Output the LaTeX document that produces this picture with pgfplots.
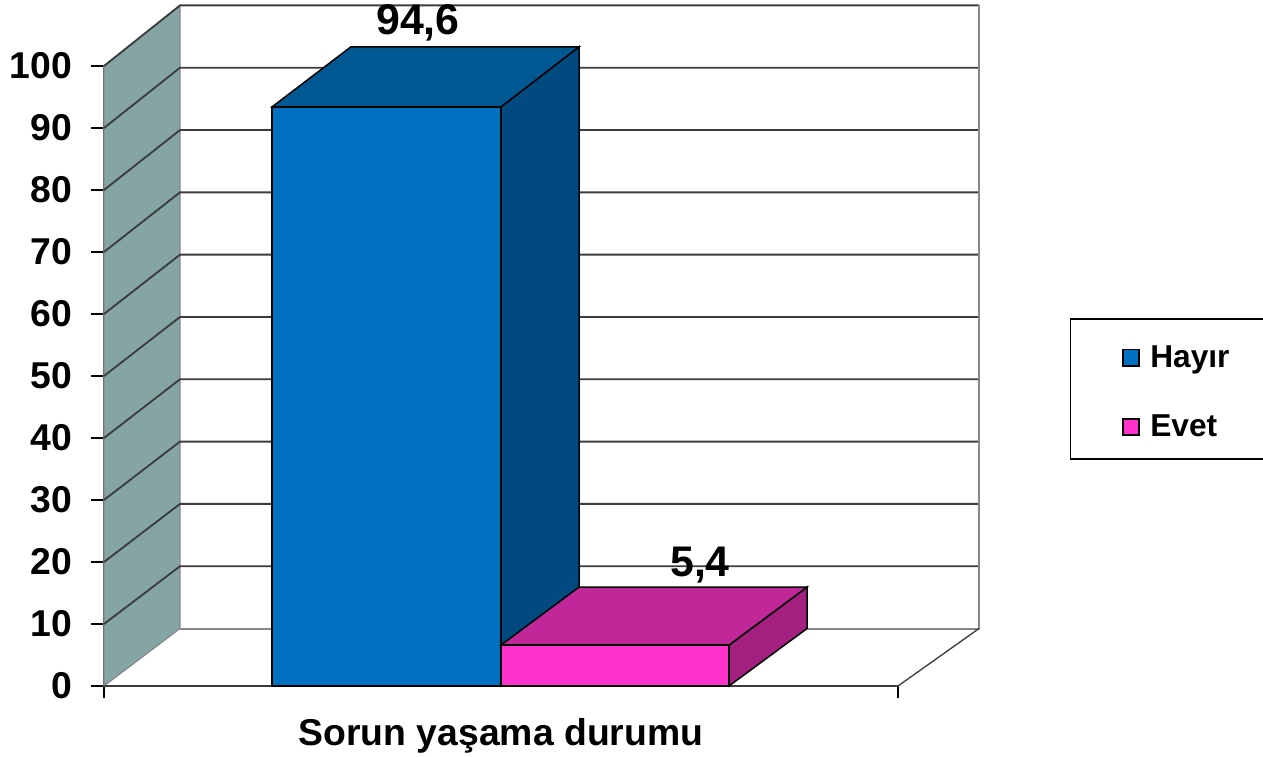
\documentclass[border=0pt]{standalone}
\usepackage{pgfplots}
\pgfplotsset{compat=1.18}
\usepackage{fontspec}
\setmainfont{Liberation Sans}
\definecolor{wall}{RGB}{133,165,165}
\definecolor{gridc}{RGB}{60,60,60}
\definecolor{edgec}{RGB}{135,135,135}
\definecolor{bluef}{RGB}{0,112,192}
\definecolor{bluet}{RGB}{0,88,147}
\definecolor{blues}{RGB}{0,74,128}
\definecolor{pinkf}{RGB}{255,51,204}
\definecolor{pinkt}{RGB}{194,39,153}
\definecolor{pinks}{RGB}{163,31,128}
\newcommand{\bigf}{\fontsize{22.4}{26}\selectfont\bfseries}
\newcommand{\valf}{\fontsize{25.7}{30}\selectfont\bfseries}
\begin{document}
\begin{tikzpicture}
\path[use as bounding box] (-62.4pt,-42.6pt) rectangle +(757.8pt,454.2pt);
\begin{axis}[
  scale only axis, width=476.4pt, height=372pt,
  xmin=104, xmax=898, ymin=0, ymax=100, clip=false,
  axis y line*=left, axis x line*=bottom,
  axis line style={draw=gridc, line width=1.1pt, -},
  ytick={0,10,...,100}, xtick={104,898}, xticklabels={},
  tick style={draw=black, line width=1pt},
  tick align=outside,
  major tick length=7.5pt,
  /pgf/number format/assume math mode=true,
  yticklabel style={font=\bigf, xshift=-8pt},
  xlabel={Sorun yaşama durumu},
  xlabel style={font=\bigf, yshift=-1.5pt},
  legend style={at={(axis cs:1069.5,59.35)}, anchor=north west, draw=black, line width=1pt,
    font=\fontsize{19}{23}\selectfont\bfseries, fill=white,
    inner xsep=31.2pt, inner ysep=12pt, legend cell align=left,
    /tikz/every even column/.append style={column sep=0pt},
    row sep=23.1pt},
  legend image code/.code={\draw[#1, draw=black, line width=1pt] (0pt,-6.8pt) rectangle (9.6pt,2.8pt);},
]
% side wall
\addplot[fill=wall, draw=edgec, line width=0.7pt, forget plot] coordinates {(104,0) (180,9.27) (180,109.77) (104,100)} -- cycle;
% wall and back-wall grid lines
\addplot[draw=gridc, line width=1.1pt, forget plot, unbounded coords=jump] table[row sep=\\] {
x y\\
104 10\\ 180 19.32\\ 979 19.32\\ nan nan\\
104 20\\ 180 29.37\\ 979 29.37\\ nan nan\\
104 30\\ 180 39.42\\ 979 39.42\\ nan nan\\
104 40\\ 180 49.47\\ 979 49.47\\ nan nan\\
104 50\\ 180 59.52\\ 979 59.52\\ nan nan\\
104 60\\ 180 69.57\\ 979 69.57\\ nan nan\\
104 70\\ 180 79.62\\ 979 79.62\\ nan nan\\
104 80\\ 180 89.67\\ 979 89.67\\ nan nan\\
104 90\\ 180 99.72\\ 979 99.72\\ nan nan\\
104 100\\ 180 109.77\\ 979 109.77\\
};
\addplot[draw=edgec, line width=1.2pt, forget plot] coordinates {(180,9.27) (979,9.27) (979,109.77)};
\addplot[draw=gridc, line width=0.8pt, forget plot] coordinates {(104,0) (898,0) (979,9.27)};
% Hayir bar
\addplot[fill=blues, draw=black, line width=0.9pt, forget plot] coordinates {(501,0) (579,9.27) (579,103.1) (501,93.4)} -- cycle;
\addplot[fill=bluet, draw=black, line width=0.9pt, forget plot] coordinates {(272,93.4) (351,103.1) (579,103.1) (501,93.4)} -- cycle;
\addplot[fill=bluef, draw=black, line width=0.9pt, forget plot] coordinates {(272,0) (501,0) (501,93.4) (272,93.4)} -- cycle;
% Evet bar
\addplot[fill=pinks, draw=black, line width=0.9pt, forget plot] coordinates {(729,0) (807,9.27) (807,15.95) (729,6.6)} -- cycle;
\addplot[fill=pinkt, draw=black, line width=0.9pt, forget plot] coordinates {(501,6.6) (579,15.95) (807,15.95) (729,6.6)} -- cycle;
\addplot[fill=pinkf, draw=black, line width=0.9pt, forget plot] coordinates {(501,0) (729,0) (729,6.6) (501,6.6)} -- cycle;
% value labels
\addplot[draw=none, mark=none, forget plot, nodes near coords, point meta=explicit symbolic,
  every node near coord/.style={anchor=center, font=\valf, text=black, inner sep=0pt}]
  table[meta=lab, row sep=\\] {
x y lab\\
418 106.9 {94,6}\\
700 19.5 {5,4}\\
};
\addlegendimage{fill=bluef}
\addlegendentry{\hspace{4.2pt}\raisebox{-2pt}[\height][\depth]{Hayır}\hspace{30pt}}
\addlegendimage{fill=pinkf}
\addlegendentry{\hspace{4.2pt}\raisebox{-2pt}[\height][\depth]{Evet}}
\end{axis}
\end{tikzpicture}
\end{document}
